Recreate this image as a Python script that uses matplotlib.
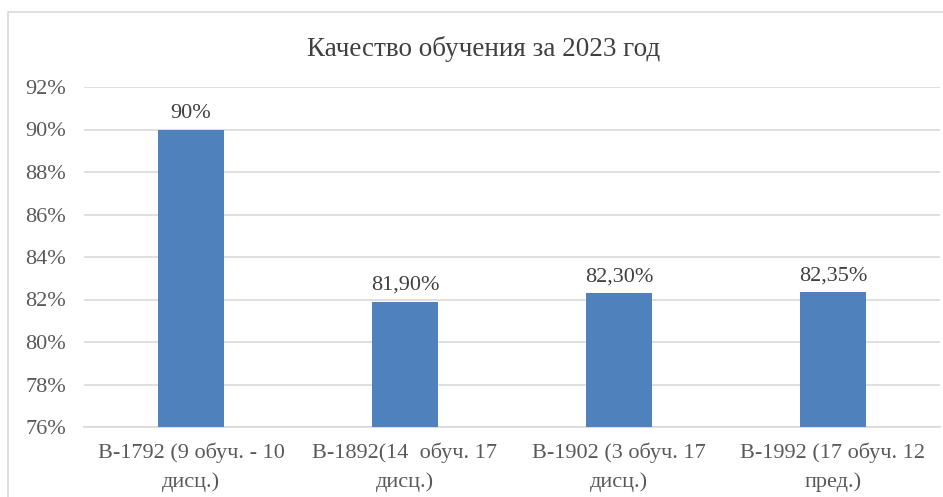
import matplotlib.pyplot as plt
from matplotlib.patches import Rectangle

# chart values
categories = ['В-1792 (9 обуч. - 10\nдисц.)', 'В-1892(14  обуч. 17\nдисц.)',
              'В-1902 (3 обуч. 17\nдисц.)', 'В-1992 (17 обуч. 12\nпред.)']
values = [90.0, 81.9, 82.3, 82.35]
value_labels = ['90%', '81,90%', '82,30%', '82,35%']
yticks = [76, 78, 80, 82, 84, 86, 88, 90, 92]

plt.rcParams['font.family'] = ['Liberation Serif', 'DejaVu Serif']
txt = '#595959'
grid = '#D9D9D9'

fig = plt.figure(figsize=(9.43, 4.97), dpi=100)
# outer chart border
fig.patches.append(Rectangle((8 / 943, -0.1), 1.1, 1 - 12 / 497 + 0.1, transform=fig.transFigure,
                             fill=False, edgecolor=grid, linewidth=1.2))

ax = fig.add_axes([84 / 943, 1 - 427 / 497, (940 - 84) / 943, (427 - 87) / 497])
x = range(len(categories))
bars = ax.bar(x, values, width=0.31, color='#4F81BD', zorder=3)
ax.set_xlim(-0.5, len(categories) - 0.5)
ax.set_ylim(76, 92)
ax.set_yticks(yticks)
ax.set_yticklabels([f'{t}%' for t in yticks])
ax.set_xticks(list(x))
ax.set_xticklabels(categories, linespacing=1.65)
ax.yaxis.grid(True, color=grid, linewidth=1.2, zorder=0)
for s in ['top', 'right', 'left']:
    ax.spines[s].set_visible(False)
ax.spines['bottom'].set_color(grid)
ax.spines['bottom'].set_linewidth(1.2)
ax.tick_params(axis='both', length=0, labelsize=16, colors=txt)
ax.tick_params(axis='y', pad=13)
ax.tick_params(axis='x', pad=11)

for b, lab in zip(bars, value_labels):
    ax.annotate(lab, (b.get_x() + b.get_width() / 2, b.get_height()), xytext=(0, 5),
                textcoords='offset points', ha='center', va='bottom', fontsize=16, color='#404040')

fig.text(484 / 943, 1 - 49 / 497, 'Качество обучения за 2023 год', ha='center', va='center',
         fontsize=19.5, color='#404040')

fig.savefig('out.png', dpi=100)
